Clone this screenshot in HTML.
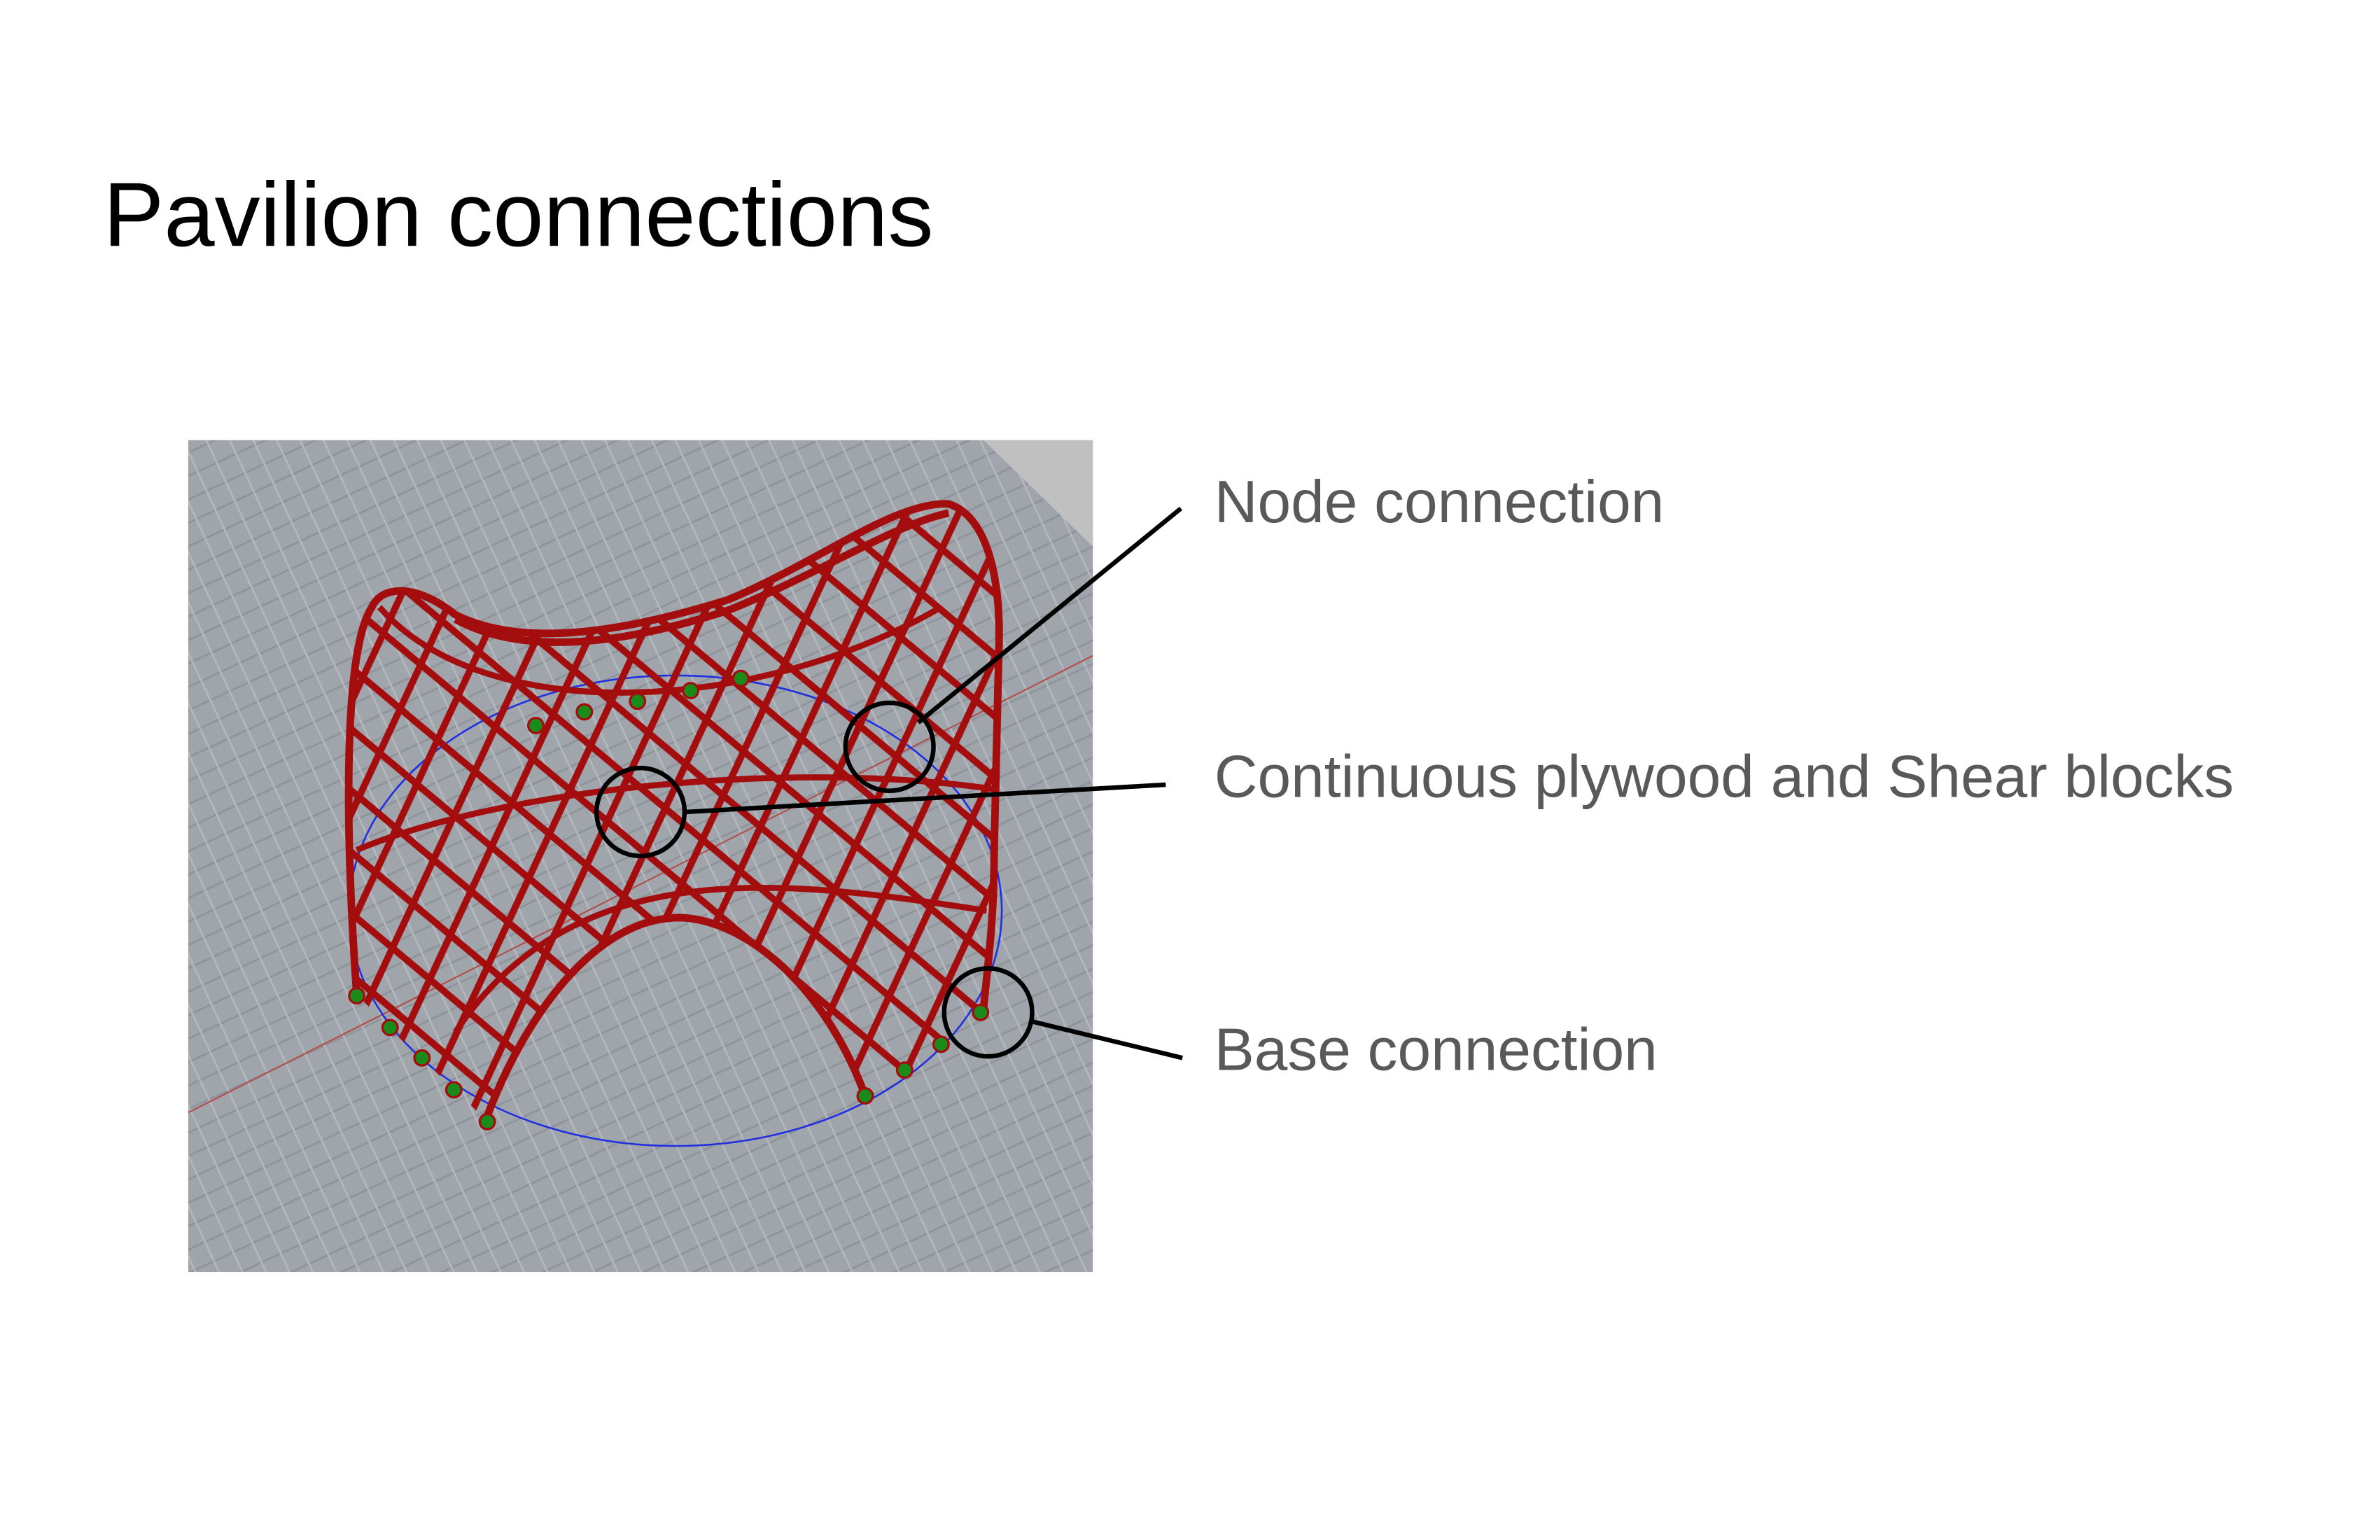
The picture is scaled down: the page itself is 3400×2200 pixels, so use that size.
<!DOCTYPE html>
<html><head><meta charset="utf-8"><style>
html,body{margin:0;padding:0;background:#fff;}
svg{display:block;}
</style></head><body>
<svg width="3400" height="2200" viewBox="0 0 1568 1014.6" xmlns="http://www.w3.org/2000/svg">
<defs>
<pattern id="tex" width="14" height="14" patternUnits="userSpaceOnUse" patternTransform="rotate(-25)">
<rect width="14" height="14" fill="#a0a4ab"/>
<rect x="0" y="0" width="14" height="1.3" fill="#8f939a"/>
<rect x="0" y="0" width="1.3" height="14" fill="#b3b7bd"/>
</pattern>
<pattern id="ga" width="31" height="31" patternUnits="userSpaceOnUse" patternTransform="rotate(40)">
<rect x="0" y="0" width="31" height="4.5" fill="#a30d0d"/>
</pattern>
<pattern id="gb" width="31" height="31" patternUnits="userSpaceOnUse" patternTransform="rotate(-65)">
<rect x="0" y="0" width="31" height="4.5" fill="#a30d0d"/>
</pattern>
<clipPath id="sil"><path d="M235,655 C228,560 225,430 245,400 C252,385 275,385 300,405 C340,425 400,420 480,395 C540,370 590,330 625,332 C650,340 660,380 658,430 L655,560 C655,610 650,640 648,665 L620,690 L570,722 C540,640 480,600 440,605 C390,610 345,670 320,738 L300,718 L278,698 L257,678 Z"/></clipPath>
<clipPath id="img"><rect x="124" y="290" width="596" height="548"/></clipPath>
</defs>
<text x="68" y="162" font-family="Liberation Sans, sans-serif" font-size="60" fill="#000">Pavilion connections</text>
<rect x="124" y="290" width="596" height="548" fill="url(#tex)"/>
<polygon points="648,290 720,290 720,360" fill="#c0c0c0"/>
<g clip-path="url(#img)">
<line x1="124" y1="733" x2="720" y2="432" stroke="#b05050" stroke-width="1"/>
<ellipse cx="445" cy="600" rx="215" ry="155" fill="none" stroke="#2030e0" stroke-width="1.2"/>
<g clip-path="url(#sil)">
<rect x="124" y="290" width="596" height="548" fill="url(#ga)"/>
<rect x="124" y="290" width="596" height="548" fill="url(#gb)"/>
<path d="M250,400 C320,480 500,470 620,400" fill="none" stroke="#a30d0d" stroke-width="4"/>
<path d="M235,560 C330,520 520,500 655,520" fill="none" stroke="#a30d0d" stroke-width="4"/>
<path d="M300,680 C380,560 520,580 650,600" fill="none" stroke="#a30d0d" stroke-width="4"/>
</g>
<path d="M235,655 C228,560 225,430 245,400 C252,385 275,385 300,405 C340,425 400,420 480,395 C540,370 590,330 625,332 C650,340 660,380 658,430 L655,560 C655,610 650,640 648,665" fill="none" stroke="#a30d0d" stroke-width="5"/>
<path d="M320,738 C345,670 390,610 440,605 C480,600 540,640 570,722" fill="none" stroke="#a30d0d" stroke-width="5"/>
<path d="M300,408 C340,430 400,428 480,402 C540,378 590,345 625,338" fill="none" stroke="#a30d0d" stroke-width="5"/>
<g fill="#1a8a1a" stroke="#a30d0d" stroke-width="1.5">
<circle cx="235" cy="656" r="5"/><circle cx="257" cy="677" r="5"/><circle cx="278" cy="697" r="5"/><circle cx="299" cy="718" r="5"/><circle cx="321" cy="739" r="5"/>
<circle cx="570" cy="722" r="5"/><circle cx="596" cy="705" r="5"/><circle cx="620" cy="688" r="5"/><circle cx="646" cy="667" r="5"/>
<circle cx="353" cy="478" r="5"/><circle cx="385" cy="469" r="5"/><circle cx="420" cy="462" r="5"/><circle cx="455" cy="455" r="5"/><circle cx="488" cy="447" r="5"/>
</g>
</g>
<g fill="none" stroke="#000" stroke-width="3">
<circle cx="586" cy="492" r="29"/>
<line x1="605" y1="476" x2="778" y2="335"/>
<circle cx="422" cy="535" r="29"/>
<line x1="451" y1="535" x2="768" y2="517"/>
<circle cx="651" cy="667" r="29"/>
<line x1="680" y1="673" x2="779" y2="697"/>
</g>
<g font-family="Liberation Sans, sans-serif" font-size="39.5" fill="#595959">
<text x="800" y="344">Node connection</text>
<text x="800" y="525">Continuous plywood and Shear blocks</text>
<text x="800" y="705">Base connection</text>
</g>
</svg>
</body></html>
